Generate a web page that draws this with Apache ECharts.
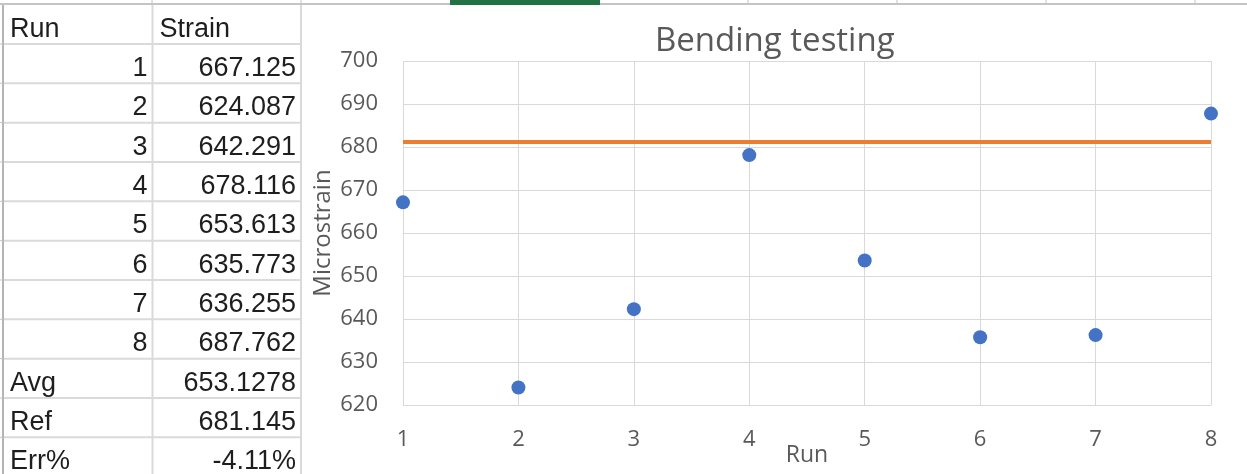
<!DOCTYPE html>
<html>
<head>
<meta charset="utf-8">
<script src="https://cdn.jsdelivr.net/npm/echarts@6/dist/echarts.min.js"></script>
<style>
html,body{margin:0;padding:0;background:#fff;}
#c{width:1247px;height:474px;}
</style>
</head>
<body>
<div id="c"></div>
<script>
// ---- data ----
const runs = [1, 2, 3, 4, 5, 6, 7, 8];
const strains = [667.125, 624.087, 642.291, 678.116, 653.613, 635.773, 636.255, 687.762];
const refValue = 681.145;
const tableHeader = ['Run', 'Strain'];
const summaryLabels = ['Avg', 'Ref', 'Err%'];
const summaryValues = ['653.1278', '681.145', '-4.11%'];
const yTicks = [620, 700, 10]; // min, max, interval
const xTicks = [1, 8, 1];

// ---- layout constants ----
const W = 1247;
const rowBounds = [5];
for (let i = 0; i < 12; i++) rowBounds.push(44 + 39.33 * i);
const colX = [3, 152.5, 301];
const gridColor = '#dadada';
const cellFont = '27px "Liberation Sans", Arial, sans-serif';
const cellColor = '#1e1e1e';

const graphic = [];
// top header residue
graphic.push({type:'line', silent:true, shape:{x1:0, y1:4, x2:W, y2:4}, style:{stroke:'#c4c4c4', lineWidth:2}});
[152, 301, 748, 897, 1046, 1195].forEach(x => {
  graphic.push({type:'line', silent:true, shape:{x1:x, y1:0, x2:x, y2:5}, style:{stroke:'#c4c4c4', lineWidth:1}});
});
graphic.push({type:'rect', silent:true, shape:{x:450, y:0, width:150, height:5}, style:{fill:'#217346'}});
// left border
graphic.push({type:'line', silent:true, shape:{x1:3, y1:5, x2:3, y2:474}, style:{stroke:'#b4b4b4', lineWidth:2}});
// table horizontal lines
for (let i = 1; i < rowBounds.length; i++) {
  const y = rowBounds[i];
  graphic.push({type:'line', silent:true, shape:{x1:4, y1:y, x2:301, y2:y}, style:{stroke:gridColor, lineWidth:2}});
  graphic.push({type:'line', silent:true, shape:{x1:0, y1:y, x2:3, y2:y}, style:{stroke:'#c4c4c4', lineWidth:1}});
}
// table vertical lines
graphic.push({type:'line', silent:true, shape:{x1:152.5, y1:5, x2:152.5, y2:474}, style:{stroke:gridColor, lineWidth:2}});
graphic.push({type:'line', silent:true, shape:{x1:301, y1:5, x2:301, y2:474}, style:{stroke:gridColor, lineWidth:2}});

function cell(text, row, col, align) {
  const yc = (rowBounds[row] + (rowBounds[row + 1] || rowBounds[row] + 39.33)) / 2 + 5;
  let x;
  if (align === 'left') x = colX[col] + 7;
  else x = colX[col + 1] - 5;
  graphic.push({type:'text', silent:true, x:x, y:yc,
    style:{text:String(text), font:cellFont, fill:cellColor, textAlign:align, textVerticalAlign:'middle'}});
}
cell(tableHeader[0], 0, 0, 'left');
cell(tableHeader[1], 0, 1, 'left');
runs.forEach((r, i) => {
  cell(r, i + 1, 0, 'right');
  cell(strains[i].toFixed(3), i + 1, 1, 'right');
});
summaryLabels.forEach((l, i) => {
  cell(l, runs.length + 1 + i, 0, 'left');
  cell(summaryValues[i], runs.length + 1 + i, 1, 'right');
});

const chartFont = '"Open Sans", sans-serif';
const axisText = '#595959';

const option = {
  backgroundColor: '#fff',
  animation: false,
  title: {
    text: 'Bending testing',
    left: 650,
    top: 20,
    textStyle: {fontFamily: chartFont, fontSize: 33, fontWeight: 'normal', color: axisText}
  },
  grid: {left: 403, right: W - 1211, top: 61, bottom: 474 - 405, containLabel: false, outerBoundsMode: 'none'},
  xAxis: {
    type: 'value', min: xTicks[0], max: xTicks[1], interval: xTicks[2],
    name: 'Run', nameLocation: 'middle', nameGap: 39, nameMoveOverlap: false,
    nameTextStyle: {fontFamily: chartFont, fontSize: 23, color: axisText},
    axisLine: {show: true, lineStyle: {color: '#d9d9d9', width: 1}},
    axisTick: {show: false},
    axisLabel: {fontFamily: chartFont, fontSize: 22, color: axisText, margin: 24},
    splitLine: {show: true, lineStyle: {color: '#d9d9d9', width: 1}}
  },
  yAxis: {
    type: 'value', min: yTicks[0], max: yTicks[1], interval: yTicks[2],
    name: 'Microstrain', nameLocation: 'middle', nameGap: 68, nameRotate: 90, nameMoveOverlap: false,
    nameTextStyle: {fontFamily: chartFont, fontSize: 24, color: axisText},
    axisLine: {show: false},
    axisTick: {show: false},
    axisLabel: {fontFamily: chartFont, fontSize: 22, color: axisText, margin: 25},
    splitLine: {show: true, lineStyle: {color: '#d9d9d9', width: 1}}
  },
  series: [
    {
      type: 'line',
      data: [[xTicks[0], refValue], [xTicks[1], refValue]],
      symbol: 'none',
      lineStyle: {color: '#ED7D31', width: 4},
      z: 2
    },
    {
      type: 'scatter',
      data: runs.map((r, i) => [r, strains[i]]),
      symbol: 'circle',
      symbolSize: 14,
      itemStyle: {color: '#4472C4', opacity: 1},
      z: 3
    }
  ],
  graphic: graphic
};

const chart = echarts.init(document.getElementById('c'), null, {renderer: 'canvas'});
chart.setOption(option);
</script>
</body>
</html>
